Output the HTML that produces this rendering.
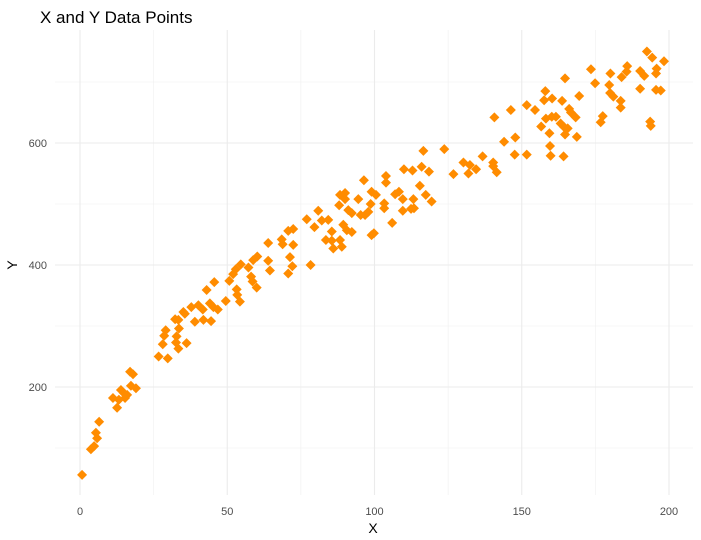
<!DOCTYPE html>
<html><head><meta charset="utf-8"><style>
html,body{margin:0;padding:0;background:#fff;}
svg{display:block;font-family:"Liberation Sans",sans-serif;}
</style></head><body>
<svg id="chart" width="701" height="540" viewBox="0 0 701 540">
<text x="40" y="23" font-size="17" fill="#000">X and Y Data Points</text>
<g id="grid"></g>
<g id="xticks"></g>
<g id="yticks"></g>
<g id="points"></g>
<text x="373" y="533" font-size="14" text-anchor="middle" fill="#000">X</text>
<text x="17" y="265" font-size="14" text-anchor="middle" fill="#000" transform="rotate(-90 17 265)">Y</text>
</svg>
<script>
const xTicks = [0, 50, 100, 150, 200];
const xMinor = [25, 75, 125, 175];
const yTicks = [200, 400, 600];
const yMinor = [100, 300, 500, 700];
const xs = [0.7,3.7,4.8,5.4,5.8,6.5,11.2,12.6,13.2,13.9,14.9,16,15.3,17,18,17.3,19,
26.7,29.8,28.1,28.6,29.1,32.8,32.6,33.4,36.2,33.6,32.3,33.4,35.6,35.1,37.8,39,40.2,41.7,41.9,44.5,44.1,45.3,46.8,43,45.6,49.5,50.7,52,52.9,54.6,57.2,53.2,53.4,54.3,58.1,58.6,60,58.8,60.2,
63.9,64.5,63.9,68.5,68.8,71.3,72.1,70.7,72.4,70.7,72.4,77,78.3,79.6,80.9,82.1,84.3,85.5,83.5,85.5,86,88.3,88.9,89.4,90.6,92.3,88,88.3,90,90,91.1,92.3,94.5,95.3,96.8,97.9,98.7,96.4,99,100.5,99,99.8,103.3,103.3,103.9,103.9,106,107,108.3,109.6,109.6,112.4,113.4,113.2,115.4,117.4,119.4,110,112.9,116,118.5,116.6,123.7,126.8,130.2,132.4,131.9,134.5,
136.7,140.3,140.3,141.5,144,147.8,147.6,151.7,140.7,146.3,151.7,154.5,158,157.6,160.3,163.7,164.7,169.5,166.1,166.7,168.3,158.2,160.2,161.6,156.6,159.4,163.2,164.4,165.6,164.7,168.7,159.6,159.8,164.2,173.5,174.9,180.1,179.7,180,181.1,183.6,183.6,183.9,185.6,185.8,177.5,176.8,190.2,191.6,190.2,192.5,194.3,195.8,195.6,198.3,195.6,197.2,193.6,193.8];
const ys = [56,98,103,125,116,143,182,166,179,195,190,187,182,225,221,202,198,
250,247,270,284,293,283,273,263,272,296,311,310,320,323,331,307,334,327,310,308,337,331,327,359,372,341,374,385,393,401,396,360,351,340,381,373,363,408,414,
407,391,436,442,434,413,398,386,433,456,459,475,400,462,489,473,474,455,441,440,427,441,430,466,457,454,498,515,518,508,490,485,508,482,482,487,500,539,520,515,449,452,501,493,546,535,469,516,520,508,489,492,493,508,530,515,504,557,555,561,553,587,590,549,568,564,550,557,
578,568,562,552,602,609,581,581,642,654,662,654,685,670,673,669,706,677,656,650,642,640,643,643,627,616,632,626,624,614,610,595,579,578,721,698,714,695,682,676,669,658,708,717,726,644,634,718,710,689,750,740,722,714,734,687,686,635,628];

const NS = "http://www.w3.org/2000/svg";
const L = 55, R = 693, T = 30, B = 495;
function sx(v){ return 80 + v * 2.945; }
function sy(v){ return 509 - v * 0.61; }
function mk(tag, attrs, parent){
  const e = document.createElementNS(NS, tag);
  for (const k in attrs) e.setAttribute(k, attrs[k]);
  parent.appendChild(e); return e;
}
const grid = document.getElementById('grid');
xMinor.forEach(v => {
  const l = mk('line', {x1:sx(v), x2:sx(v), y1:T, y2:B, stroke:'#f0f0f0', 'stroke-width':0.6}, grid);
  
  
});
yMinor.forEach(v => {
  const l = mk('line', {x1:L, x2:R, y1:sy(v), y2:sy(v), stroke:'#f0f0f0', 'stroke-width':0.6}, grid);
  
  
});
xTicks.forEach(v => {
  const l = mk('line', {x1:sx(v), x2:sx(v), y1:T, y2:B, stroke:'#ebebeb', 'stroke-width':1.1}, grid);
  
  
  const t = mk('text', {x:sx(v), y:515, 'font-size':11, 'text-anchor':'middle', fill:'#4d4d4d'}, document.getElementById('xticks'));
  t.textContent = v;
  
  
});
yTicks.forEach(v => {
  const l = mk('line', {x1:L, x2:R, y1:sy(v), y2:sy(v), stroke:'#ebebeb', 'stroke-width':1.1}, grid);
  
  
  const t = mk('text', {x:47, y:sy(v)+4, 'font-size':11, 'text-anchor':'end', fill:'#4d4d4d'}, document.getElementById('yticks'));
  t.textContent = v;
  
  
});
const pts = document.getElementById('points');
const r = 5;
xs.forEach((xv, i) => {
  const cx = sx(xv), cy = sy(ys[i]);
  const p = mk('polygon', {points:`${cx},${cy-r} ${cx+r},${cy} ${cx},${cy+r} ${cx-r},${cy}`, fill:'#FF8C00'}, pts);
  
  
});
</script>
</body></html>
